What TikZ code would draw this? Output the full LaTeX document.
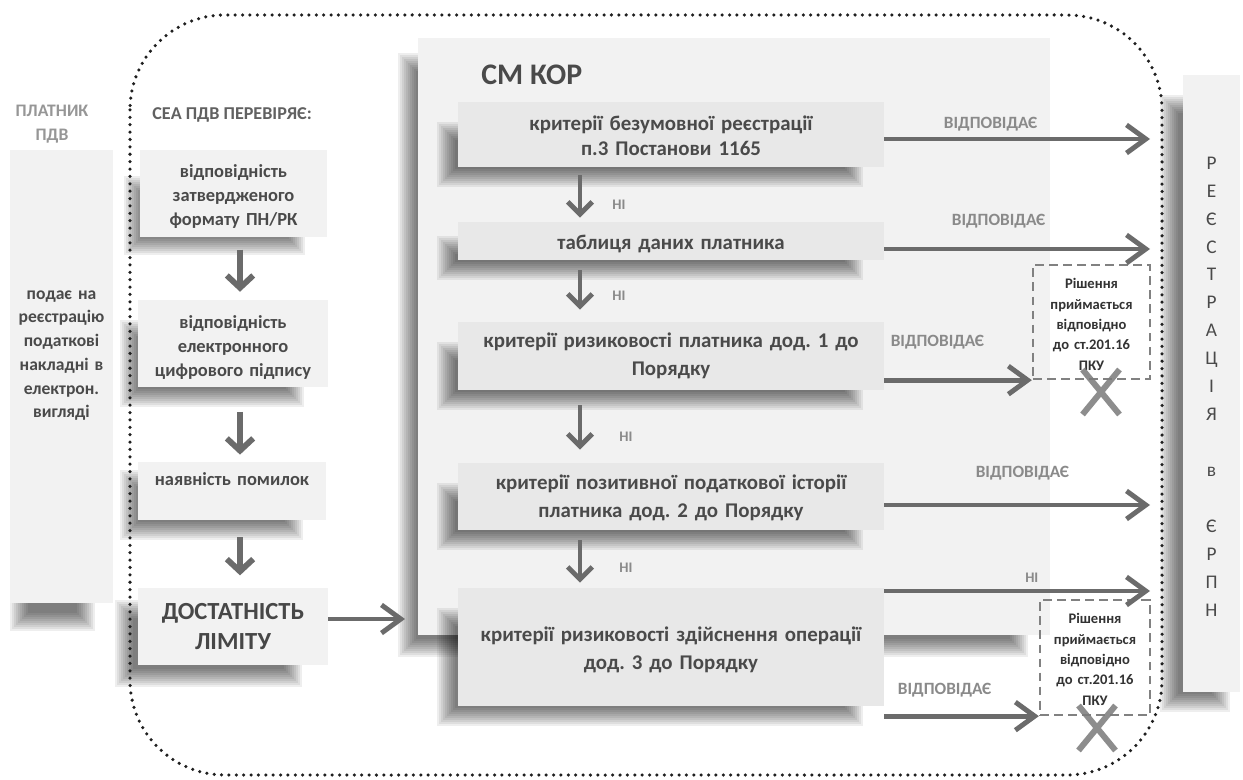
\documentclass[tikz,border=0pt]{standalone}
\usepackage{fontspec}
\setmainfont{Carlito}
\usetikzlibrary{arrows.meta,fit,shapes.misc}
\frenchspacing
\definecolor{panel}{HTML}{F2F2F2}
\definecolor{inner}{HTML}{E8E8E8}
\definecolor{txt}{HTML}{4A4A4A}
\definecolor{lbl}{HTML}{8A8A8A}
\definecolor{arr}{HTML}{6B6B6B}
% soft shadow: box (x1,y1)-(x2,y2) in px; outer shadow offsets left, top, right, bottom
\newcommand\shadowrect[8]{%
  \foreach \k in {0,...,9}{%
    \fill[black,opacity=0.065] ({#1-#5+2*\k},{#2+#6+2*\k}) rectangle ({#3-#7-2*\k},{#4+#8-2*\k});
  }}
\begin{document}
\begin{tikzpicture}[x=0.02cm,y=-0.02cm,
  panelbox/.style={fill=panel,inner sep=0pt},
  seabox/.style={fill=panel,inner sep=0pt},
  korbox/.style={fill=inner,inner sep=0pt},
  dashbox/.style={draw=arr!85,line width=1.3pt,dash pattern=on 5pt off 3pt,inner sep=0pt},
  seatext/.style={inner sep=0pt,align=center,text width=3.5cm,text=txt,font=\bfseries\fontsize{10.5}{13.7}\selectfont},
  kortext/.style={inner sep=0pt,align=center,text width=8.3cm,text=txt,font=\bfseries\fontsize{11.9}{16}\selectfont},
  dashtext/.style={inner sep=0pt,align=center,text width=2.15cm,text=black!80,font=\bfseries\fontsize{8.3}{11.6}\selectfont},
  lab/.style={text=lbl,font=\bfseries\fontsize{9.8}{11}\selectfont,anchor=south,inner sep=0pt},
  nilab/.style={text=lbl,font=\bfseries\fontsize{8.3}{9}\selectfont,inner sep=0pt},
  harrow/.style={draw=arr,line width=2.8pt,-{Straight Barb[length=11pt,width=16pt]}},
  varrow/.style={draw=arr,line width=3.3pt,-{Straight Barb[length=7pt,width=15pt]}},
  karrow/.style={draw=arr,line width=2.8pt,-{Straight Barb[length=7pt,width=14pt]}},
  xmark/.style={cross out,draw=arr!90,opacity=0.85,line width=3.4pt,inner sep=0pt,minimum width=0.62cm,minimum height=0.78cm},
]
\useasboundingbox (0,0) rectangle (1243,780);
\fill[white] (0,0) rectangle (1243,780);

% headers
\node[text=lbl!90,font=\bfseries\fontsize{10}{14}\selectfont,align=center,text width=2cm] (payerhdr) at (52,124) {ПЛАТНИК\\ПДВ};
\node[text=black!62,font=\bfseries\fontsize{10.3}{12}\selectfont,anchor=west,inner sep=0pt] (seahdr) at (152,115) {СЕА ПДВ ПЕРЕВІРЯЄ:};

% big panels
\shadowrect{10}{150}{113}{603}{0}{30}{18}{28}
\node[panelbox,fit={(10,150)(113,603)}] (payer) {};
\node[inner sep=0pt,align=center,text width=2cm,text=txt,font=\bfseries\fontsize{10}{13.5}\selectfont] (payert) at ([yshift=-0.8pt]payer.center)
  {подає на\\реєстрацію\\податкові\\накладні в\\електрон.\\вигляді\\~\\~};
\shadowrect{418}{38}{1050}{635}{20}{15}{22}{22}
\node[panelbox,fit={(418,38)(1050,635)}] (kor) {};
\shadowrect{1183}{75}{1240}{692}{23}{20}{10}{20}
\node[panelbox,fit={(1183,75)(1240,692)}] (reg) {};
\node[inner sep=0pt,align=center,text width=1.1cm,text=txt,font=\fontsize{11}{15.9}\selectfont] (regt) at ([yshift=-1.7pt]reg.center)
  {Р\\Е\\Є\\С\\Т\\Р\\А\\Ц\\І\\Я\\~\\в\\~\\Є\\Р\\П\\Н};
\node[text=txt,font=\bfseries\fontsize{17}{20}\selectfont,anchor=west,inner sep=0pt] (kortitle) at (481,75) {СМ КОР};

% SEA column
\shadowrect{140}{150}{327}{237}{16}{26}{22}{18}
\node[seabox,fit={(140,150)(327,237)}] (s1) {};
\node[seatext] (s1t) at ([yshift=-1.9pt]s1.center) {відповідність\\затвердженого\\формату ПН/РК};
\shadowrect{138}{300}{328}{387}{18}{20}{24}{20}
\node[seabox,fit={(138,300)(328,387)}] (s2) {};
\node[seatext] (s2t) at ([yshift=-2.4pt]s2.center) {відповідність\\електронного\\цифрового підпису};
\shadowrect{138}{462}{326}{520}{18}{8}{23}{20}
\node[seabox,fit={(138,462)(326,520)}] (s3) {};
\node[seatext] (s3t) at (s3.center) {наявність помилок\\~};
\shadowrect{138}{588}{328}{665}{23}{12}{26}{22}
\node[seabox,fit={(138,588)(328,665)}] (s4) {};
\node[seatext,text=black!72,font=\bfseries\fontsize{14}{17.6}\selectfont] (s4t) at (s4.center) {ДОСТАТНІСТЬ\\ЛІМІТУ};

% CM KOR boxes
\shadowrect{458}{102}{884}{167}{21}{20}{21}{20}
\node[korbox,fit={(458,102)(884,167)}] (b1) {};
\node[kortext,font=\bfseries\fontsize{11.9}{14.2}\selectfont] (b1t) at ([yshift=-0.8pt]b1.center) {критерії безумовної реєстрації\\п.3 Постанови 1165};
\shadowrect{458}{222}{884}{260}{21}{14}{21}{20}
\node[korbox,fit={(458,222)(884,260)}] (b2) {};
\node[kortext] (b2t) at ([yshift=-1.7pt]b2.center) {таблиця даних платника};
\shadowrect{458}{322}{884}{390}{21}{20}{21}{20}
\node[korbox,fit={(458,322)(884,390)}] (b3) {};
\node[kortext] (b3t) at (b3.center) {критерії ризиковості платника дод. 1 до\\Порядку};
\shadowrect{458}{463}{884}{530}{21}{20}{21}{20}
\node[korbox,fit={(458,463)(884,530)}] (b4) {};
\node[kortext] (b4t) at ([yshift=-1pt]b4.center) {критерії позитивної податкової історії\\платника дод. 2 до Порядку};
\shadowrect{458}{588}{884}{706}{21}{20}{21}{20}
\node[korbox,fit={(458,588)(884,706)}] (b5) {};
\node[kortext] (b5t) at ([yshift=-1.7pt]b5.center) {критерії ризиковості здійснення операції\\дод. 3 до Порядку};

% dashed decision boxes
\node[dashbox,fit={(1033,265)(1150,379)}] (d1) {};
\node[dashtext] (d1t) at ([yshift=-1.4pt]d1.center) {Рішення\\приймається\\відповідно\\до ст.201.16\\ПКУ};
\node[dashbox,fit={(1040,600)(1150,715)}] (d2) {};
\node[dashtext] (d2t) at ([yshift=-1.1pt]d2.center) {Рішення\\приймається\\відповідно\\до ст.201.16\\ПКУ};

% coordinates
\coordinate (sx) at (240,0);
\coordinate (kx) at (580,0);
\coordinate (kin) at (405,619);
\coordinate (t1) at (1150,139);
\coordinate (t2) at (1150,249);
\coordinate (t4) at (1150,505);
\coordinate (t5) at (1150,591);

% SEA arrows
\draw[varrow,shorten <=7pt,shorten >=4.5pt] (s1.south -| sx) -- (s2.north -| sx);
\draw[varrow,shorten <=14pt,shorten >=4pt] (s2.south -| sx) -- (s3.north -| sx);
\draw[varrow,shorten <=9.5pt,shorten >=7pt] (s3.south -| sx) -- (s4.north -| sx);
\draw[harrow] (s4.east |- kin) -- (kin);

% KOR down arrows
\draw[karrow,shorten <=4.5pt,shorten >=2.3pt] (b1.south -| kx) -- (b2.north -| kx);
\draw[karrow,shorten <=5.7pt,shorten >=6.8pt] (b2.south -| kx) -- (b3.north -| kx);
\draw[karrow,shorten <=8.5pt,shorten >=7.4pt] (b3.south -| kx) -- (b4.north -| kx);
\draw[karrow,shorten <=5.7pt,shorten >=2.8pt] (b4.south -| kx) -- (b5.north -| kx);
\node[nilab] (ni1) at (619,205) {НІ};
\node[nilab] (ni2) at (619,296) {НІ};
\node[nilab] (ni3) at (626,437) {НІ};
\node[nilab] (ni4) at (626,568) {НІ};

% right arrows
\draw[harrow] (b1.east |- t1) -- node[lab,pos=0.40,yshift=3pt] {ВІДПОВІДАЄ} (t1);
\draw[harrow] (b2.east |- t2) -- node[lab,pos=0.43,yshift=10.5pt] {ВІДПОВІДАЄ} (t2);
\draw[harrow] (b3.east |- d1.south west) -- node[lab,pos=0.36,yshift=16.5pt] {ВІДПОВІДАЄ} (d1.south west);
\draw[harrow] (b4.east |- t4) -- node[lab,pos=0.52,yshift=12.5pt] {ВІДПОВІДАЄ} (t4);
\draw[harrow] (b5.east |- t5) -- node[nilab,anchor=south,pos=0.555,yshift=3.5pt] {НІ} (t5);
\draw[harrow] (b5.east |- d2.south west) -- node[lab,pos=0.39,yshift=9.6pt] {ВІДПОВІДАЄ} (d2.south west);

% crosses
\node[xmark] (x1) at (1101,392) {};
\node[xmark] (x2) at (1097,728) {};

% dotted boundary
\draw[black!88,line width=2pt,dash pattern=on 0pt off 4.2pt,line cap=round,rounded corners=1.9cm] (130,15) rectangle (1162,775);
\end{tikzpicture}
\end{document}
